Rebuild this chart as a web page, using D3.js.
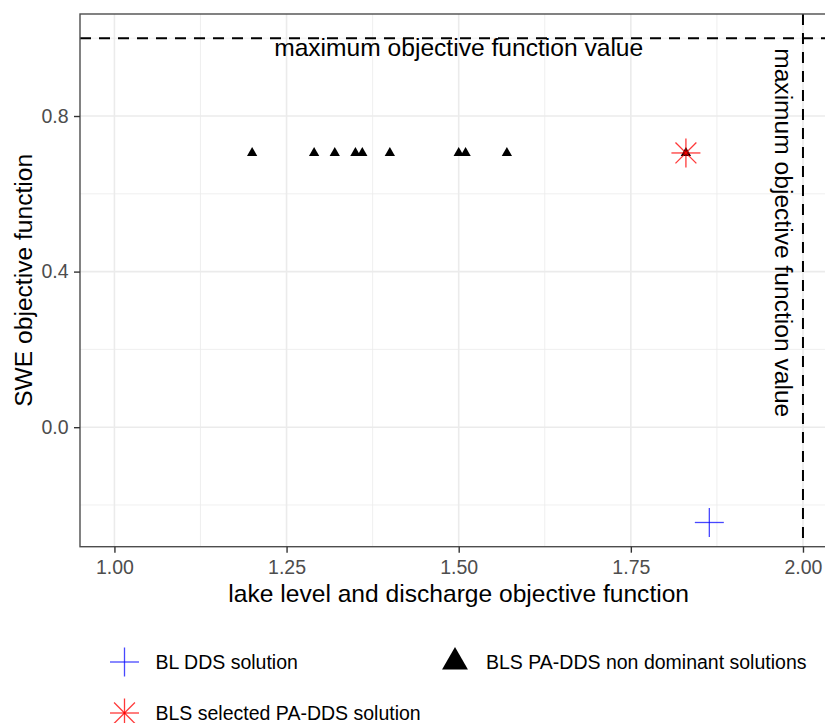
<!DOCTYPE html>
<html>
<head>
<meta charset="utf-8">
<script src="https://cdn.jsdelivr.net/npm/d3@7"></script>
<style>
  body { margin: 0; background: #fff; }
  svg { display: block; font-family: "Liberation Sans", Arial, sans-serif; }
</style>
</head>
<body>
<div class="root"></div>
<script>
// data
var paretoX = [1.20, 1.29, 1.32, 1.35, 1.36, 1.40, 1.50, 1.51, 1.57, 1.83];
var paretoY = [0.705, 0.705, 0.705, 0.705, 0.705, 0.705, 0.705, 0.705, 0.705, 0.705];
var blX = [1.864];
var blY = [-0.245];
var selectedX = [1.83];
var selectedY = [0.705];
var maxX = 2, maxY = 1;
var xTicks = [1.00, 1.25, 1.50, 1.75, 2.00];
var yTicks = [0.0, 0.4, 0.8];
var legendLabels = ["BL DDS solution", "BLS PA-DDS non dominant solutions", "BLS selected PA-DDS solution"];

var width = 825, height = 723;
var panel = {left: 80, top: 14, right: 837.4, bottom: 546.7};
var blueCol = "rgba(0,0,255,0.72)", redCol = "rgba(255,0,0,0.78)";

var svg = d3.select(".root").append("svg")
  .attr("width", width)
  .attr("height", height);

// ggplot style 5% expansion on both axes
function expand(lo, hi) { var r = hi - lo; return [lo - 0.05 * r, hi + 0.05 * r]; }
var allX = paretoX.concat(blX, selectedX, [1, maxX]);
var allY = paretoY.concat(blY, selectedY, [maxY]);

var x = d3.scaleLinear().domain(expand(d3.min(allX), d3.max(allX))).range([panel.left, panel.right]);
var y = d3.scaleLinear().domain(expand(d3.min(allY), d3.max(allY))).range([panel.bottom, panel.top]);

var grid = svg.append("g");
var xMinor = d3.range(0, xTicks.length - 1).map(function (i) { return (xTicks[i] + xTicks[i + 1]) / 2; });
var yMinor = [-0.2, 0.2, 0.6, 1.0];

grid.selectAll(".xminor").data(xMinor).enter().append("line")
  .attr("x1", function (d) { return x(d); }).attr("x2", function (d) { return x(d); })
  .attr("y1", panel.top).attr("y2", panel.bottom)
  .attr("stroke", "#ebebeb").attr("stroke-width", 0.8);
grid.selectAll(".yminor").data(yMinor).enter().append("line")
  .attr("y1", function (d) { return y(d); }).attr("y2", function (d) { return y(d); })
  .attr("x1", panel.left).attr("x2", panel.right)
  .attr("stroke", "#ebebeb").attr("stroke-width", 0.8);
grid.selectAll(".xmajor").data(xTicks).enter().append("line")
  .attr("x1", function (d) { return x(d); }).attr("x2", function (d) { return x(d); })
  .attr("y1", panel.top).attr("y2", panel.bottom)
  .attr("stroke", "#ebebeb").attr("stroke-width", 1.6);
grid.selectAll(".ymajor").data(yTicks).enter().append("line")
  .attr("y1", function (d) { return y(d); }).attr("y2", function (d) { return y(d); })
  .attr("x1", panel.left).attr("x2", panel.right)
  .attr("stroke", "#ebebeb").attr("stroke-width", 1.6);

// reference lines
svg.append("line")
  .attr("x1", panel.left).attr("x2", panel.right)
  .attr("y1", y(maxY)).attr("y2", y(maxY))
  .attr("stroke", "#000").attr("stroke-width", 2).attr("stroke-dasharray", "11,8");
svg.append("line")
  .attr("x1", x(maxX)).attr("x2", x(maxX))
  .attr("y1", panel.top).attr("y2", panel.bottom)
  .attr("stroke", "#000").attr("stroke-width", 2).attr("stroke-dasharray", "11,8");

svg.append("text")
  .attr("x", x(1.5)).attr("y", y(maxY) + 17.5)
  .attr("text-anchor", "middle")
  .style("font-size", "24.6px")
  .text("maximum objective function value");
svg.append("text")
  .attr("transform", "translate(" + (x(maxX) - 27.5) + "," + y(0.5) + ") rotate(90)")
  .attr("text-anchor", "middle")
  .style("font-size", "24.6px")
  .text("maximum objective function value");

// points
var tri = d3.symbol().type(d3.symbolTriangle).size(46);
svg.append("g").selectAll("path").data(paretoX).enter().append("path")
  .attr("d", tri)
  .attr("transform", function (d, i) { return "translate(" + x(d) + "," + y(paretoY[i]) + ")"; })
  .attr("fill", "#000");

function drawCross(g, cx, cy, r, color) {
  g.append("line").attr("x1", cx - r).attr("x2", cx + r).attr("y1", cy).attr("y2", cy)
    .attr("stroke", color).attr("stroke-width", 1.3);
  g.append("line").attr("x1", cx).attr("x2", cx).attr("y1", cy - r).attr("y2", cy + r)
    .attr("stroke", color).attr("stroke-width", 1.3);
}
function drawStar(g, cx, cy, r, color) {
  drawCross(g, cx, cy, r, color);
  var d = r * 0.72;
  g.append("line").attr("x1", cx - d).attr("x2", cx + d).attr("y1", cy - d).attr("y2", cy + d)
    .attr("stroke", color).attr("stroke-width", 1.3);
  g.append("line").attr("x1", cx - d).attr("x2", cx + d).attr("y1", cy + d).attr("y2", cy - d)
    .attr("stroke", color).attr("stroke-width", 1.3);
}

var marks = svg.append("g");
blX.forEach(function (d, i) { drawCross(marks, x(d), y(blY[i]), 14.5, blueCol); });
selectedX.forEach(function (d, i) { drawStar(marks, x(d), y(selectedY[i]), 14.5, redCol); });

// panel border
svg.append("rect")
  .attr("x", panel.left).attr("y", panel.top)
  .attr("width", panel.right - panel.left).attr("height", panel.bottom - panel.top)
  .attr("fill", "none").attr("stroke", "#4d4d4d").attr("stroke-width", 1.4);

// axes
var xAxis = svg.append("g")
  .attr("transform", "translate(0," + panel.bottom + ")")
  .call(d3.axisBottom(x).tickValues(xTicks).tickFormat(d3.format(".2f")).tickSize(6).tickPadding(7.5));
var yAxis = svg.append("g")
  .attr("transform", "translate(" + panel.left + ",0)")
  .call(d3.axisLeft(y).tickValues(yTicks).tickFormat(d3.format(".1f")).tickSize(6).tickPadding(5.5));
[xAxis, yAxis].forEach(function (a) {
  a.select(".domain").remove();
  a.selectAll(".tick line").attr("stroke", "#333").attr("stroke-width", 1.4);
  a.selectAll(".tick text").attr("fill", "#4d4d4d")
    .style("font-size", "19.5px").style("font-family", "'Liberation Sans', Arial, sans-serif");
});

svg.append("text")
  .attr("x", (panel.left + panel.right) / 2).attr("y", 601.5)
  .attr("text-anchor", "middle")
  .style("font-size", "24.6px")
  .text("lake level and discharge objective function");
svg.append("text")
  .attr("transform", "translate(32," + ((panel.top + panel.bottom) / 2) + ") rotate(-90)")
  .attr("text-anchor", "middle")
  .style("font-size", "24.6px")
  .text("SWE objective function");

// legend
var legend = svg.append("g");
var legendPos = [[124.5, 662], [455, 662], [124.5, 713]];
drawCross(legend, legendPos[0][0], legendPos[0][1], 14.5, blueCol);
legend.append("path")
  .attr("d", d3.symbol().type(d3.symbolTriangle).size(290))
  .attr("transform", "translate(" + legendPos[1][0] + "," + legendPos[1][1] + ")")
  .attr("fill", "#000");
drawStar(legend, legendPos[2][0], legendPos[2][1], 14.5, redCol);
legend.selectAll("text").data(legendLabels).enter().append("text")
  .attr("x", function (d, i) { return legendPos[i][0] + 31; })
  .attr("y", function (d, i) { return legendPos[i][1] + 7; })
  .style("font-size", "19.5px")
  .attr("fill", "#000")
  .text(function (d) { return d; });
</script>
</body>
</html>
